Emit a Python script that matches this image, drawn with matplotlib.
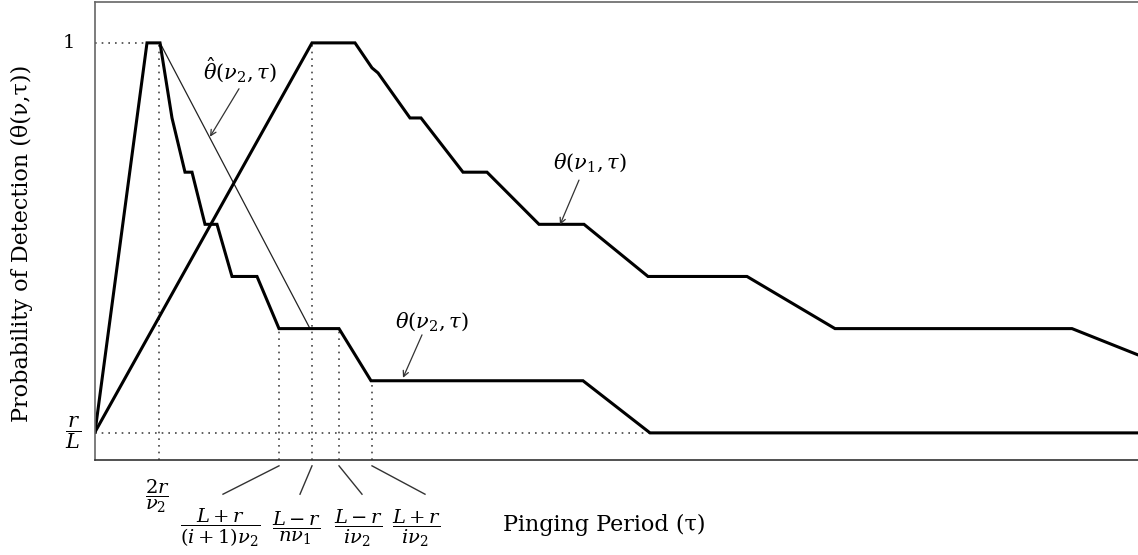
import matplotlib
matplotlib.use("Agg")
import matplotlib.pyplot as plt

plt.rcParams['font.family'] = ['DejaVu Serif']
plt.rcParams['mathtext.fontset'] = 'dejavuserif'

# ---- data (tau in arbitrary units, probability of detection) ----
r_over_L = 0.065

tau_v2 = [0, 5.2, 6.5, 7.7, 9.0, 9.7, 11.0, 12.2, 13.7, 16.2, 18.4, 24.4, 27.6, 48.8, 55.5, 104.3]
theta_v2 = [0.067, 1.0, 1.0, 0.82, 0.69, 0.69, 0.565, 0.565, 0.44, 0.44, 0.315, 0.315, 0.19, 0.19, 0.065, 0.065]

tau_v1 = [0, 21.7, 26.0, 27.7, 28.3, 31.5, 32.6, 36.8, 39.2, 44.4, 48.9, 55.3, 65.2, 74.0, 97.7, 104.3]
theta_v1 = [0.067, 1.0, 1.0, 0.94, 0.928, 0.82, 0.82, 0.69, 0.69, 0.565, 0.565, 0.44, 0.44, 0.315, 0.315, 0.252]

tau_hat = [6.5, 21.5]
theta_hat = [1.0, 0.315]

# marked tau values and the curve level at which their guide starts
mark_tau = [6.4, 18.4, 21.7, 24.4, 27.7]
mark_top = [1.0, 0.315, 1.0, 0.315, 0.19]
mark_labels = [r'$\dfrac{2r}{\nu_2}$', r'$\dfrac{L+r}{(i+1)\nu_2}$', r'$\dfrac{L-r}{n\nu_1}$',
               r'$\dfrac{L-r}{i\nu_2}$', r'$\dfrac{L+r}{i\nu_2}$']
label_x = [6.2, 12.5, 20.2, 26.4, 32.2]
leader_end = [None, 12.8, 20.5, 26.7, 33.0]

fig = plt.figure(figsize=(11.38, 5.55), dpi=100)
ax = fig.add_axes([95/1138, 95/555, 1043/1138, 458/555])
ax.set_xlim(0, 104.3)
ax.set_ylim(0, 1.098)

dot = dict(color='#444444', lw=1.2, linestyle=(0, (1, 3)))
ax.plot([0, 5.5], [1.0, 1.0], **dot)
ax.plot([0, 55.5], [r_over_L, r_over_L], **dot)
for t, top in zip(mark_tau, mark_top):
    ax.plot([t, t], [0, top], **dot)

ax.plot(tau_hat, theta_hat, color='#222222', lw=0.9)
ax.plot(tau_v2, theta_v2, color='black', lw=2.2, solid_joinstyle='miter')
ax.plot(tau_v1, theta_v1, color='black', lw=2.2, solid_joinstyle='miter')

ax.set_xticks([])
ax.set_yticks([])
for s in ['top', 'left']:
    ax.spines[s].set_color('#666666')
    ax.spines[s].set_linewidth(1.2)
ax.spines['bottom'].set_color('#333333')
ax.spines['bottom'].set_linewidth(1.2)
ax.spines['right'].set_visible(False)

# y tick labels
ax.text(-2.6, 1.0, '1', ha='center', va='center', fontsize=14)
ax.text(-2.2, r_over_L, r'$\dfrac{r}{L}$', ha='center', va='center', fontsize=15, clip_on=False)

# x labels under axis
for i, (lx, lab) in enumerate(zip(label_x, mark_labels)):
    yy = -0.088 if i == 0 else -0.163
    ax.text(lx, yy, lab, ha='center', va='center', fontsize=14, clip_on=False)
    if leader_end[i] is not None:
        ax.plot([mark_tau[i], leader_end[i]], [-0.014, -0.082], color='#333333', lw=1.0, clip_on=False)

ax.text(50.9, -0.156, 'Pinging Period (τ)', ha='center', va='center', fontsize=16, clip_on=False)
fig.text(22/1138, 1 - 243/555, 'Probability of Detection (θ(ν,τ))', rotation=90,
         ha='center', va='center', fontsize=16)

arr = dict(arrowstyle='->', color='#333333', lw=0.9, shrinkA=0, shrinkB=0)
ax.annotate('', xy=(11.5, 0.775), xytext=(14.4, 0.89), arrowprops=arr)
ax.text(14.5, 0.935, r'$\hat{\theta}(\nu_2,\tau)$', ha='center', va='center', fontsize=15)
ax.annotate('', xy=(46.5, 0.564), xytext=(48.4, 0.671), arrowprops=arr)
ax.text(49.5, 0.712, r'$\theta(\nu_1,\tau)$', ha='center', va='center', fontsize=15)
ax.annotate('', xy=(30.8, 0.197), xytext=(32.7, 0.30), arrowprops=arr)
ax.text(33.7, 0.331, r'$\theta(\nu_2,\tau)$', ha='center', va='center', fontsize=15)

fig.savefig('out.png', dpi=100)
